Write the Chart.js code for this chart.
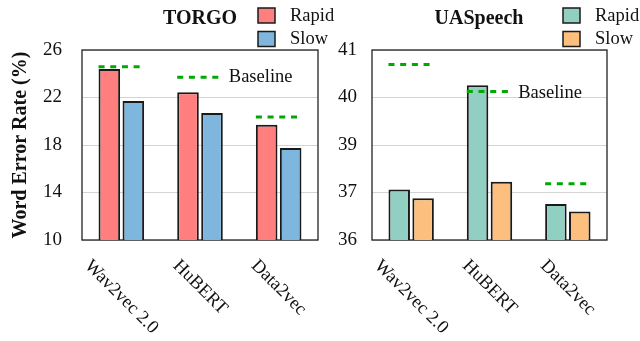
<!DOCTYPE html>
<html>
<head>
<meta charset="utf-8">
<script src="https://cdn.jsdelivr.net/npm/chart.js@4"></script>
<style>
  body { margin: 0; background: #fff; }
  #wrap { position: relative; width: 640px; height: 341px; overflow: hidden; }
  canvas { position: absolute; top: 0; }
</style>
</head>
<body>
<div id="wrap">
  <canvas id="torgo" width="340" height="341" style="left:0"></canvas>
  <canvas id="ua" width="320" height="341" style="left:320px"></canvas>
</div>
<script>
const categories = ['Wav2vec 2.0', 'HuBERT', 'Data2vec'];

const torgoRapid = [24.4, 22.45, 19.7];
const torgoSlow = [21.7, 20.7, 17.75];
const torgoBaseline = [24.6, 23.7, 20.35];
const torgoTicks = [10, 14, 18, 22, 26];

const uaRapid = [37.33, 40.07, 36.95];
const uaSlow = [37.1, 37.53, 36.75];
const uaBaseline = [40.62, 39.91, 37.48];
const uaTicks = [36, 37.25, 38.5, 39.75, 41];
const uaTickLabels = ['36', '37', '39', '40', '41'];

const serif = '"Liberation Serif", "Times New Roman", serif';

// box, dashed baselines, rotated x labels, titles and legend
function panelPlugin(p) {
  return {
    id: 'panel',
    beforeDatasetsDraw(chart) {
      const a = chart.chartArea, ctx = chart.ctx;
      ctx.save();
      ctx.strokeStyle = '#222';
      ctx.lineWidth = 1.3;
      ctx.strokeRect(a.left, a.top, a.right - a.left, a.bottom - a.top);
      ctx.restore();
    },
    afterDatasetsDraw(chart) {
      const ctx = chart.ctx, a = chart.chartArea;
      const y = chart.scales.y, x = chart.scales.x;
      const m0 = chart.getDatasetMeta(0).data, m1 = chart.getDatasetMeta(1).data;
      ctx.save();
      // baselines
      ctx.strokeStyle = '#00a800';
      ctx.lineWidth = 3;
      ctx.setLineDash([6, 5.7]);
      p.baseline.forEach((v, i) => {
        const x0 = m0[i].x - m0[i].width / 2;
        const x1 = m1[i].x + m1[i].width / 2 + 1;
        const py = y.getPixelForValue(v);
        ctx.beginPath();
        ctx.moveTo(x0, py);
        ctx.lineTo(x1, py);
        ctx.stroke();
        if (i === 1) {
          ctx.fillStyle = '#111';
          ctx.font = '18.5px ' + serif;
          ctx.textBaseline = 'middle';
          ctx.textAlign = 'left';
          ctx.fillText('Baseline', x1 + 5, py + p.labelShift);
        }
      });
      ctx.setLineDash([]);

      // x labels, rotated downwards
      ctx.font = '18.5px ' + serif;
      ctx.fillStyle = '#111';
      ctx.textAlign = 'center';
      ctx.textBaseline = 'middle';
      categories.forEach((c, i) => {
        const px = x.getPixelForTick(i);
        const w = ctx.measureText(c).width;
        const cy = a.bottom + 18 + (w + 14) * Math.SQRT1_2 / 2;
        ctx.save();
        ctx.translate(px, cy);
        ctx.rotate(Math.PI / 4);
        ctx.fillText(c, 0, 0);
        ctx.restore();
      });

      // title
      ctx.font = 'bold 20px ' + serif;
      ctx.textBaseline = 'alphabetic';
      ctx.fillText(p.title, p.titleX, 24);

      // legend
      ctx.font = '18.5px ' + serif;
      ctx.textAlign = 'left';
      ctx.textBaseline = 'middle';
      p.legend.forEach((l, i) => {
        const by = 8 + i * 23.5;
        ctx.fillStyle = l.color;
        ctx.fillRect(p.legendX, by, 17, 15);
        ctx.strokeStyle = '#1a1a1a';
        ctx.lineWidth = 1.5;
        ctx.strokeRect(p.legendX, by, 17, 15);
        ctx.fillStyle = '#111';
        ctx.fillText(l.label, p.legendX + 32, by + 8);
      });

      // y title
      if (p.yTitle) {
        ctx.save();
        ctx.translate(21, (a.top + a.bottom) / 2);
        ctx.rotate(-Math.PI / 2);
        ctx.font = 'bold 20px ' + serif;
        ctx.textAlign = 'center';
        ctx.fillText(p.yTitle, 0, 0);
        ctx.restore();
      }
      ctx.restore();
    }
  };
}

function makeChart(id, p) {
  return new Chart(document.getElementById(id), {
    type: 'bar',
    data: {
      labels: categories,
      datasets: [
        { label: 'Rapid', data: p.rapid, backgroundColor: p.colors[0] },
        { label: 'Slow', data: p.slow, backgroundColor: p.colors[1] }
      ]
    },
    options: {
      responsive: false,
      animation: false,
      events: [],
      layout: { padding: { left: 0, top: 50, right: p.padRight, bottom: 0 } },
      datasets: {
        bar: {
          borderColor: '#1a1a1a',
          borderWidth: 2,
          borderSkipped: false,
          categoryPercentage: 0.61,
          barPercentage: 0.9
        }
      },
      scales: {
        x: {
          grid: { display: false },
          border: { display: false },
          ticks: { display: false },
          afterFit(s) { s.height = 101; }
        },
        y: {
          min: p.ticks[0],
          max: p.ticks[p.ticks.length - 1],
          afterBuildTicks(s) { s.ticks = p.ticks.map(v => ({ value: v })); },
          afterFit(s) { s.width = p.axisWidth; },
          grid: { color: '#d4d4d4', lineWidth: 1, drawTicks: false },
          border: { display: false },
          ticks: {
            padding: p.tickPad,
            color: '#111',
            font: { family: serif, size: 19 },
            callback: (v, i) => p.tickLabels[i]
          }
        }
      },
      plugins: { legend: { display: false }, tooltip: { enabled: false } }
    },
    plugins: [panelPlugin(p)]
  });
}

makeChart('torgo', {
  rapid: torgoRapid, slow: torgoSlow, baseline: torgoBaseline,
  ticks: torgoTicks, tickLabels: torgoTicks.map(String),
  colors: ['#ff7f7f', '#7fb6dd'],
  padRight: 22, axisWidth: 82, tickPad: 20, labelShift: 0,
  title: 'TORGO', titleX: 200, legendX: 258,
  legend: [{ label: 'Rapid', color: '#ff7f7f' }, { label: 'Slow', color: '#7fb6dd' }],
  yTitle: 'Word Error Rate (%)'
});

makeChart('ua', {
  rapid: uaRapid, slow: uaSlow, baseline: uaBaseline,
  ticks: uaTicks, tickLabels: uaTickLabels,
  colors: ['#92cfc3', '#fdbf7e'],
  padRight: 33, axisWidth: 52, tickPad: 15, labelShift: 2,
  title: 'UASpeech', titleX: 159, legendX: 243,
  legend: [{ label: 'Rapid', color: '#92cfc3' }, { label: 'Slow', color: '#fdbf7e' }]
});
</script>
</body>
</html>
